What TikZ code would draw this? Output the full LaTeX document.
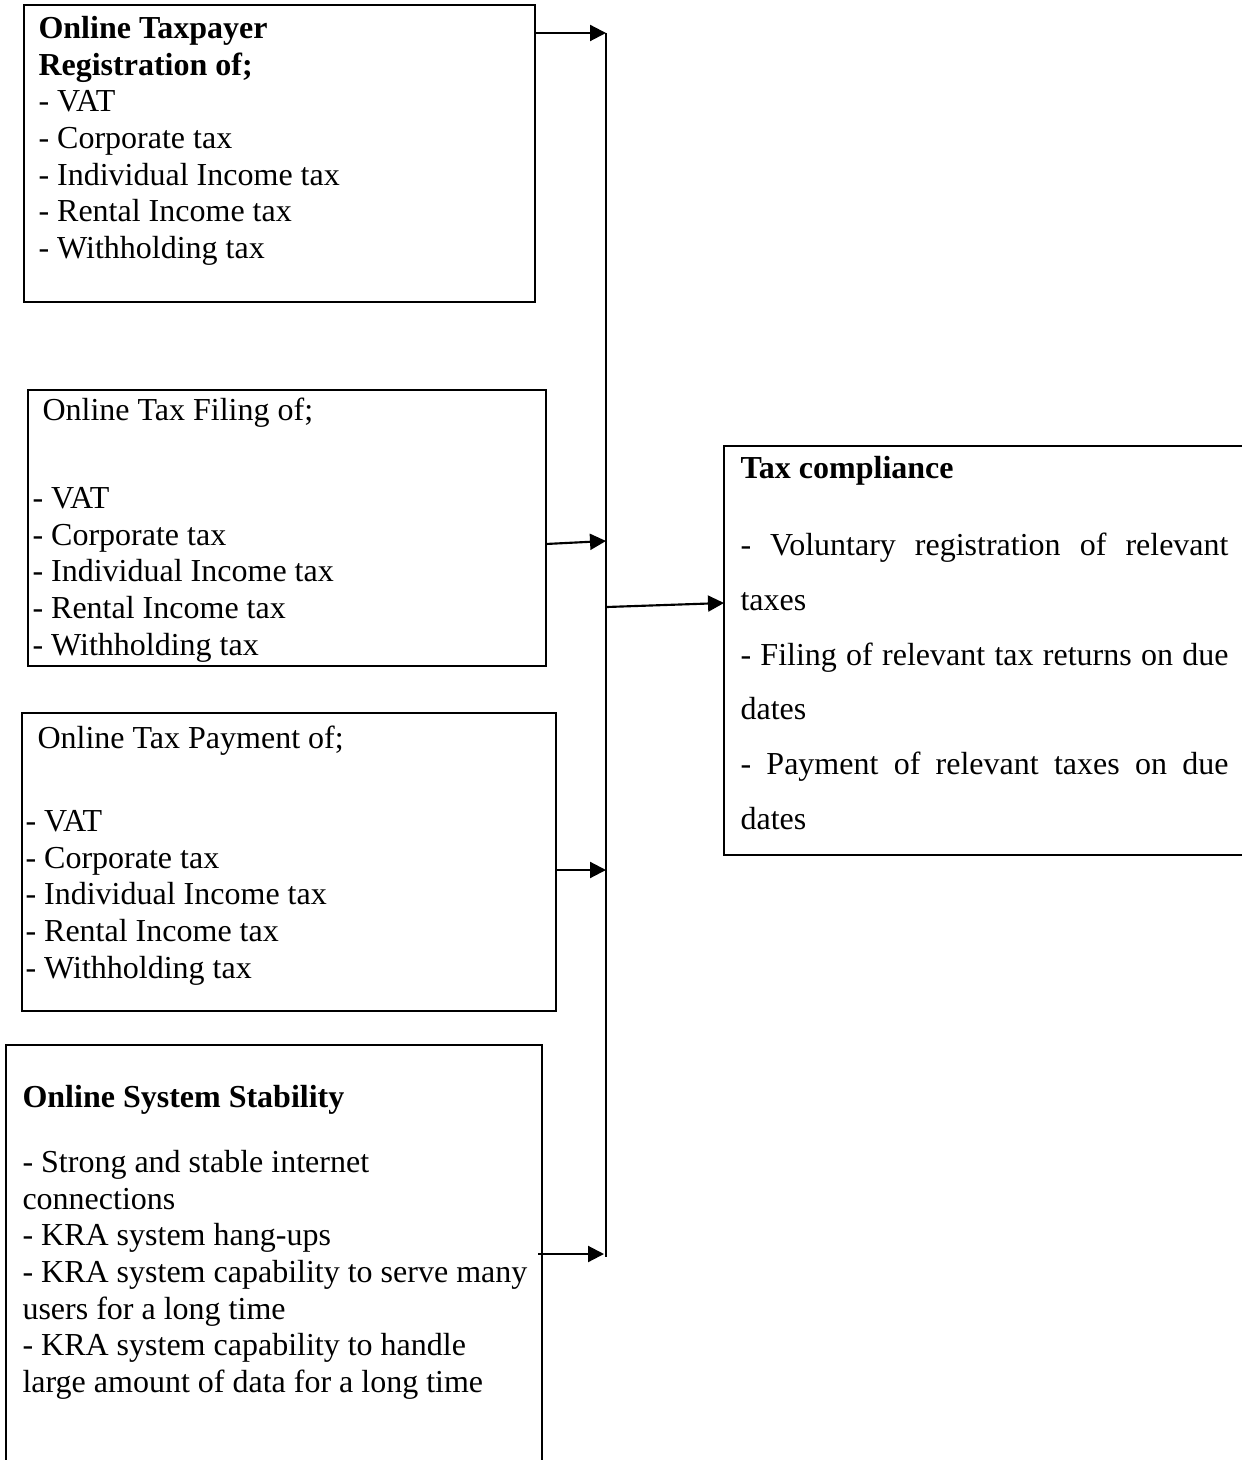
\documentclass[tikz,border=0pt]{standalone}
\usepackage{fontspec}
\setmainfont{Liberation Serif}
\usetikzlibrary{arrows.meta,fit,calc}
\newcommand{\jline}[1]{\leavevmode\hbox to 183pt{\spaceskip=0pt\xspaceskip=0pt\relax #1}}
\begin{document}
\begin{tikzpicture}[x=0.375pt,y=-0.375pt,
  box/.style={draw,line width=1.1pt,inner sep=0pt,outer sep=0pt},
  txt/.style={anchor=north west,inner sep=0pt,align=left,font=\fontsize{12pt}{13.76pt}\selectfont},
  wide/.style={anchor=north west,inner sep=0pt,align=left,text width=183pt,font=\fontsize{12pt}{20.55pt}\selectfont},
  conn/.style={-{Triangle[length=6pt,width=6pt]},line width=0.8pt},
  trunk/.style={line width=0.8pt}]
\useasboundingbox (0,0) rectangle (1241,1460);

% boxes
\node[box,fit={(24,5)(535,302)}] (reg) {};
\node[box,fit={(28,390)(546,666)}] (fil) {};
\node[box,fit={(22,713)(556,1011)}] (pay) {};
\node[box,fit={(6,1045)(542,1480)}] (sta) {};
\node[box,fit={(724,446)(1270,855)}] (comp) {};

% texts
\node[txt] (regt) at (38,12.3) {\strut\textbf{Online Taxpayer}\\\textbf{Registration of;}\\- VAT\\- Corporate tax\\- Individual Income tax\\- Rental Income tax\\- Withholding tax};

\node[txt] (filh) at (42,394.3) {\strut Online Tax Filing of;};
\node[txt] (fill) at (32,482.3) {\strut - VAT\\- Corporate tax\\- Individual Income tax\\- Rental Income tax\\- Withholding tax};

\node[txt] (payh) at (37,722.3) {\strut Online Tax Payment of;};
\node[txt] (payl) at (25,805.3) {\strut - VAT\\- Corporate tax\\- Individual Income tax\\- Rental Income tax\\- Withholding tax};

\node[txt] (stah) at (22,1081.3) {\strut\textbf{Online System Stability}};
\node[txt] (stal) at (22,1146.3) {\strut - Strong and stable internet\\connections\\- KRA system hang-ups\\- KRA system capability to serve many\\users for a long time\\- KRA system capability to handle\\large amount of data for a long time};

\node[txt] (comph) at (740,452.3) {\strut\textbf{Tax compliance}};
\node[wide] (compl) at (740,516.6) {\strut\jline{- Voluntary registration of relevant}\\taxes\\\jline{- Filing of relevant tax returns on due}\\dates\\\jline{- Payment of relevant taxes on due}\\dates};

% connectors
\coordinate (vtop) at (606,33);
\coordinate (vbot) at (606,1257);
\coordinate (j2) at (606,541);
\coordinate (j3) at (606,870);
\coordinate (j4) at (604,1254);
\coordinate (j5) at (607,607);
\draw[trunk] (vtop) -- (vbot);
\draw[conn] (reg.east |- vtop) -- (vtop);
\draw[conn] ($(fil.north east)+(0,154)$) -- (j2);
\draw[conn] (pay.east |- j3) -- (j3);
\draw[conn] ($(sta.east |- j4)+(-4,0)$) -- (j4);
\draw[conn] (j5) -- ($(comp.north west)+(0,157)$);
\end{tikzpicture}
\end{document}
